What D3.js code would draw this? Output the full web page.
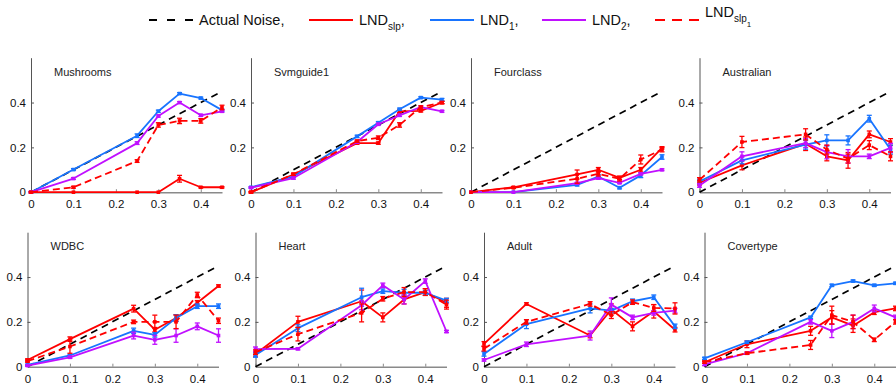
<!DOCTYPE html>
<html>
<head>
<meta charset="utf-8">
<script src="https://cdn.jsdelivr.net/npm/d3@7"></script>
<style>
  body { margin: 0; background: #fff; }
  svg { display: block; font-family: "Liberation Sans", Arial, Helvetica, sans-serif; }
</style>
</head>
<body>
<svg id="chart" width="896" height="389"></svg>
<script>
// Noise rates at which every estimator was evaluated
const noiseLevels = [0, 0.1, 0.25, 0.3, 0.35, 0.4, 0.45];
const xTicks = [0, 0.1, 0.2, 0.3, 0.4];
const yTicks = [0, 0.2, 0.4];
const xTickLabels = ["0", "0.1", "0.2", "0.3", "0.4"];
const yTickLabels = ["0", "0.2", "0.4"];
const datasetNames = ["Mushrooms", "Svmguide1", "Fourclass", "Australian",
                      "WDBC", "Heart", "Adult", "Covertype"];

// Estimated noise per dataset; rows: LNDslp, LND1, LND2, LNDslp1
const mushroomsValues = [
  [0, 0, 0, 0, 0.06, 0.022, 0.022],
  [0, 0.101, 0.252, 0.361, 0.44, 0.42, 0.366],
  [0, 0.061, 0.219, 0.34, 0.40, 0.343, 0.361],
  [0, 0.022, 0.139, 0.30, 0.318, 0.318, 0.378]
];
const mushroomsErrors = [
  [0, 0, 0, 0, 0.015, 0.003, 0.003],
  [0.003, 0.004, 0.008, 0.005, 0.004, 0.004, 0.005],
  [0.003, 0.004, 0.006, 0.005, 0.004, 0.005, 0.005],
  [0.003, 0.004, 0.006, 0.01, 0.012, 0.01, 0.01]
];

const svmguide1Values = [
  [0, 0.079, 0.219, 0.219, 0.361, 0.363, 0.40],
  [0.022, 0.07, 0.249, 0.31, 0.37, 0.422, 0.413],
  [0.02, 0.063, 0.224, 0.303, 0.343, 0.38, 0.361],
  [0, 0.08, 0.228, 0.243, 0.30, 0.38, 0.40]
];
const svmguide1Errors = [
  [0.003, 0.005, 0.005, 0.005, 0.006, 0.005, 0.005],
  [0.003, 0.005, 0.005, 0.005, 0.005, 0.004, 0.005],
  [0.003, 0.005, 0.005, 0.005, 0.005, 0.005, 0.004],
  [0.003, 0.005, 0.005, 0.008, 0.01, 0.005, 0.005]
];

const fourclassValues = [
  [0, 0.022, 0.079, 0.10, 0.064, 0.10, 0.198],
  [0, 0, 0.033, 0.07, 0.02, 0.075, 0.157],
  [0, 0, 0.04, 0.063, 0.042, 0.082, 0.10],
  [0, 0.02, 0.06, 0.082, 0.06, 0.146, 0.19]
];
const fourclassErrors = [
  [0, 0.003, 0.02, 0.01, 0.008, 0.01, 0.005],
  [0, 0, 0.005, 0.008, 0.005, 0.01, 0.01],
  [0, 0, 0.004, 0.005, 0.004, 0.005, 0.004],
  [0, 0.003, 0.02, 0.01, 0.01, 0.02, 0.01]
];

const australianValues = [
  [0.042, 0.12, 0.216, 0.16, 0.142, 0.258, 0.224],
  [0.048, 0.142, 0.212, 0.231, 0.231, 0.328, 0.19],
  [0.03, 0.16, 0.219, 0.179, 0.16, 0.16, 0.198],
  [0.055, 0.224, 0.258, 0.19, 0.15, 0.21, 0.16]
];
const australianErrors = [
  [0.01, 0.02, 0.03, 0.02, 0.035, 0.015, 0.015],
  [0.01, 0.015, 0.02, 0.025, 0.02, 0.015, 0.02],
  [0.008, 0.02, 0.02, 0.03, 0.03, 0.01, 0.02],
  [0.01, 0.025, 0.025, 0.02, 0.02, 0.02, 0.02]
];

const wdbcValues = [
  [0.03, 0.123, 0.259, 0.165, 0.217, 0.285, 0.36],
  [0.008, 0.05, 0.16, 0.142, 0.217, 0.27, 0.27],
  [0.005, 0.042, 0.139, 0.12, 0.139, 0.18, 0.139],
  [0.025, 0.09, 0.20, 0.20, 0.20, 0.32, 0.205]
];
const wdbcErrors = [
  [0.005, 0.01, 0.015, 0.01, 0.015, 0.01, 0.005],
  [0.003, 0.005, 0.012, 0.01, 0.015, 0.01, 0.01],
  [0.003, 0.005, 0.015, 0.02, 0.03, 0.015, 0.03],
  [0.005, 0.03, 0.008, 0.03, 0.03, 0.012, 0.012]
];

const heartValues = [
  [0.057, 0.20, 0.292, 0.22, 0.30, 0.333, 0.285],
  [0.052, 0.172, 0.31, 0.337, 0.33, 0.33, 0.295],
  [0.078, 0.08, 0.274, 0.363, 0.30, 0.382, 0.157],
  [0.065, 0.145, 0.24, 0.303, 0.333, 0.333, 0.277]
];
const heartErrors = [
  [0.01, 0.025, 0.05, 0.02, 0.02, 0.015, 0.02],
  [0.01, 0.015, 0.04, 0.01, 0.015, 0.01, 0.01],
  [0.01, 0.005, 0.02, 0.01, 0.02, 0.01, 0.005],
  [0.01, 0.03, 0.04, 0.01, 0.02, 0.015, 0.02]
];

const adultValues = [
  [0.102, 0.28, 0.139, 0.255, 0.18, 0.247, 0.165],
  [0.057, 0.19, 0.26, 0.25, 0.292, 0.31, 0.18],
  [0.03, 0.10, 0.139, 0.277, 0.22, 0.24, 0.25],
  [0.08, 0.20, 0.28, 0.23, 0.288, 0.262, 0.26]
];
const adultErrors = [
  [0.01, 0.005, 0.01, 0.025, 0.02, 0.03, 0.01],
  [0.01, 0.02, 0.02, 0.01, 0.01, 0.01, 0.01],
  [0.005, 0.01, 0.02, 0.03, 0.01, 0.01, 0.01],
  [0.01, 0.01, 0.01, 0.015, 0.01, 0.015, 0.025]
];

const covertypeValues = [
  [0.02, 0.10, 0.16, 0.22, 0.183, 0.243, 0.26],
  [0.037, 0.109, 0.22, 0.363, 0.382, 0.363, 0.372],
  [0.01, 0.06, 0.20, 0.16, 0.20, 0.26, 0.22],
  [0.02, 0.06, 0.097, 0.23, 0.20, 0.12, 0.20]
];
const covertypeErrors = [
  [0.005, 0.015, 0.02, 0.03, 0.03, 0.01, 0.01],
  [0.005, 0.005, 0.005, 0.005, 0.005, 0.005, 0.005],
  [0.005, 0.005, 0.01, 0.03, 0.03, 0.015, 0.01],
  [0.005, 0.005, 0.02, 0.04, 0.03, 0.008, 0.01]
];

const allValues = [mushroomsValues, svmguide1Values, fourclassValues, australianValues,
                   wdbcValues, heartValues, adultValues, covertypeValues];
const allErrors = [mushroomsErrors, svmguide1Errors, fourclassErrors, australianErrors,
                   wdbcErrors, heartErrors, adultErrors, covertypeErrors];

// Line styles, in series order: LNDslp, LND1, LND2, LNDslp1
const seriesStyles = [
  { color: "#ff0000", dash: null },
  { color: "#1874ff", dash: null },
  { color: "#c010ff", dash: null },
  { color: "#ff0000", dash: "7,4" }
];

// Panel placement (left edge of axes, bottom of axes)
const panelLayout = [
  { x: 31,    y0: 192.2 }, { x: 251, y0: 192.2 }, { x: 471, y0: 192.2 }, { x: 699.5, y0: 192.2 },
  { x: 27.5,  y0: 366.7 }, { x: 255.5, y0: 366.7 }, { x: 484, y0: 366.7 }, { x: 704.5, y0: 366.7 }
];
const plotW = 191, plotH = 134.5;

const svg = d3.select("#chart");

datasetNames.forEach((name, i) => {
  const L = panelLayout[i];
  const x = d3.scaleLinear().domain([0, 0.45]).range([L.x, L.x + plotW]);
  const y = d3.scaleLinear().domain([0, 0.6]).range([L.y0, L.y0 - plotH]);
  const g = svg.append("g");

  // x axis
  const xAxis = g.append("g").attr("transform", `translate(0,${L.y0})`)
    .call(d3.axisBottom(x).tickValues(xTicks).tickSize(0).tickPadding(8)
      .tickFormat((d, k) => xTickLabels[k]));
  xAxis.select(".domain").attr("stroke", "#8a8a8a").attr("stroke-width", 1.6);
  xAxis.selectAll(".tick text").attr("font-size", "11.5px").attr("fill", "#111")
    .attr("font-family", "'Liberation Sans', Arial, sans-serif");
  xAxis.selectAll(".tick").append("line").attr("y1", 0).attr("y2", -3)
    .attr("stroke", "#8a8a8a").attr("stroke-width", 1);

  // y axis
  const yAxis = g.append("g").attr("transform", `translate(${L.x},0)`)
    .call(d3.axisLeft(y).tickValues(yTicks).tickSize(0).tickPadding(5)
      .tickFormat((d, k) => yTickLabels[k]));
  yAxis.select(".domain").attr("stroke", "#555").attr("stroke-width", 1);
  yAxis.selectAll(".tick text").attr("font-size", "11.5px").attr("fill", "#111")
    .attr("font-family", "'Liberation Sans', Arial, sans-serif");
  yAxis.selectAll(".tick").filter(d => d > 0).append("line")
    .attr("x1", 0).attr("x2", 3).attr("stroke", "#555").attr("stroke-width", 1);

  // dataset title
  g.append("text").attr("x", L.x + 23).attr("y", L.y0 - plotH + 18)
    .attr("font-size", "11px").attr("fill", "#222").text(name);

  // actual noise reference line
  g.append("path")
    .attr("d", d3.line().x(d => x(d)).y(d => y(d))([0, 0.45]))
    .attr("stroke", "#000").attr("stroke-width", 1.7).attr("stroke-dasharray", "7,5")
    .attr("fill", "none");

  // estimator series with error bars
  allValues[i].forEach((vals, s) => {
    const st = seriesStyles[s];
    const errs = allErrors[i][s];
    const pts = noiseLevels.map((nl, k) => ({ nl, v: vals[k], e: errs[k] }));
    const sg = g.append("g");
    sg.append("path")
      .attr("d", d3.line().x(d => x(d.nl)).y(d => y(d.v))(pts))
      .attr("fill", "none").attr("stroke", st.color).attr("stroke-width", 1.8)
      .attr("stroke-dasharray", st.dash).attr("stroke-linejoin", "round");
    const bars = sg.selectAll(".eb").data(pts.filter(d => d.e > 0)).join("g");
    bars.append("line")
      .attr("x1", d => x(d.nl)).attr("x2", d => x(d.nl))
      .attr("y1", d => y(d.v - d.e)).attr("y2", d => y(d.v + d.e))
      .attr("stroke", st.color).attr("stroke-width", 1.3);
    [-1, 1].forEach(sign => {
      bars.append("line")
        .attr("x1", d => x(d.nl) - 2.5).attr("x2", d => x(d.nl) + 2.5)
        .attr("y1", d => y(d.v + sign * d.e)).attr("y2", d => y(d.v + sign * d.e))
        .attr("stroke", st.color).attr("stroke-width", 1.3);
    });
    sg.selectAll(".mk").data(pts).join("rect")
      .attr("x", d => x(d.nl) - 1.8).attr("y", d => y(d.v) - 1.8)
      .attr("width", 3.6).attr("height", 3.6).attr("fill", st.color);
  });
});

// legend
const legendItems = [
  { x: 149, color: "#000", dash: "8,10", main: "Actual Noise,", sub: null, subsub: null, tail: "" },
  { x: 309, color: "#ff0000", dash: null, main: "LND", sub: "slp", subsub: null, tail: "," },
  { x: 430, color: "#1874ff", dash: null, main: "LND", sub: "1", subsub: null, tail: "," },
  { x: 542, color: "#c010ff", dash: null, main: "LND", sub: "2", subsub: null, tail: "," },
  { x: 655, color: "#ff0000", dash: "10,7", main: "LND", sub: "slp", subsub: "1", tail: "" }
];
const legendY = 20;
const lg = svg.append("g");
legendItems.forEach(it => {
  lg.append("line").attr("x1", it.x).attr("x2", it.x + 44)
    .attr("y1", legendY).attr("y2", legendY)
    .attr("stroke", it.color).attr("stroke-width", 2).attr("stroke-dasharray", it.dash);
  const base = it.subsub ? legendY - 3 : legendY + 5;
  const t = lg.append("text").attr("x", it.x + 50).attr("y", base)
    .attr("font-size", "14.5px").attr("fill", "#111");
  t.append("tspan").text(it.main);
  if (it.sub) t.append("tspan").attr("font-size", "10px").attr("dy", 5).text(it.sub);
  if (it.subsub) t.append("tspan").attr("font-size", "8px").attr("dy", 5).text(it.subsub);
  if (it.tail) t.append("tspan").attr("dy", -5).text(it.tail);
});
</script>
</body>
</html>
